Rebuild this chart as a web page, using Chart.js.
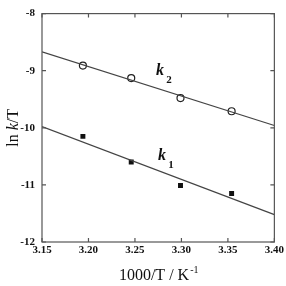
<!DOCTYPE html>
<html><head><meta charset="utf-8">
<script src="https://cdn.jsdelivr.net/npm/chart.js@4/dist/chart.umd.min.js"></script>
<style>html,body{margin:0;padding:0;background:#fff}#wrap{width:286px;height:286px}</style>
</head><body><div id="wrap"><canvas id="c" width="286" height="286"></canvas></div>
<script>
const xTicks = [3.15, 3.20, 3.25, 3.30, 3.35, 3.40];
const yTicks = [-12, -11, -10, -9, -8];
const k2X = [3.194, 3.246, 3.299, 3.354];
const k2Y = [-8.91, -9.13, -9.48, -9.71];
const k1X = [3.194, 3.246, 3.299, 3.354];
const k1Y = [-10.15, -10.60, -11.01, -11.15];
const fitX = [3.15, 3.40];
const k2Fit = [-8.67, -9.96];
const k1Fit = [-9.98, -11.52];

const pts = (xs, ys) => xs.map((x, i) => ({x, y: ys[i]}));
const SERIF = '"Liberation Serif", "DejaVu Serif", serif';

const deco = {
  id: 'deco',
  afterDraw(chart) {
    const {ctx, chartArea: a, scales: {x, y}} = chart;
    ctx.save();
    ctx.strokeStyle = '#555';
    ctx.lineWidth = 1.2;
    ctx.strokeRect(a.left, a.top, a.right - a.left, a.bottom - a.top);
    ctx.beginPath();
    xTicks.forEach(v => {
      const px = x.getPixelForValue(v);
      ctx.moveTo(px, a.bottom); ctx.lineTo(px, a.bottom - 4);
      ctx.moveTo(px, a.top); ctx.lineTo(px, a.top + 4);
    });
    yTicks.forEach(v => {
      const py = y.getPixelForValue(v);
      ctx.moveTo(a.left, py); ctx.lineTo(a.left + 4, py);
      ctx.moveTo(a.right, py); ctx.lineTo(a.right - 4, py);
    });
    ctx.stroke();
    // series labels
    ctx.fillStyle = '#111';
    const lab = (xv, yv, sub) => {
      const px = x.getPixelForValue(xv), py = y.getPixelForValue(yv);
      ctx.font = 'italic bold 16px ' + SERIF;
      ctx.textAlign = 'center'; ctx.textBaseline = 'middle';
      ctx.fillText('k', px, py);
      ctx.font = 'bold 11px ' + SERIF;
      ctx.fillText(sub, px + 9, py + 9);
    };
    lab(3.277, -9.0, '2');
    lab(3.279, -10.49, '1');
    // y title
    ctx.translate(14, (a.top + a.bottom) / 2);
    ctx.rotate(-Math.PI / 2);
    ctx.textBaseline = 'middle';
    ctx.textAlign = 'left';
    const parts = [['ln ', '16px ' + SERIF], ['k', 'italic 16px ' + SERIF], ['/T', '16px ' + SERIF]];
    let w = 0;
    parts.forEach(p => { ctx.font = p[1]; w += ctx.measureText(p[0]).width; });
    let cx = -w / 2;
    parts.forEach(p => { ctx.font = p[1]; ctx.fillText(p[0], cx, 0); cx += ctx.measureText(p[0]).width; });
    ctx.restore();
    // x title
    ctx.save();
    ctx.fillStyle = '#111';
    ctx.textBaseline = 'middle';
    ctx.textAlign = 'left';
    ctx.font = '16px ' + SERIF;
    const main = '1000/T / K', sup = '-1';
    const mw = ctx.measureText(main).width;
    ctx.font = '10px ' + SERIF;
    const sw = ctx.measureText(sup).width;
    const cxm = (a.left + a.right) / 2;
    let sx = cxm - (mw + sw) / 2;
    ctx.font = '16px ' + SERIF;
    ctx.fillText(main, sx, 276);
    ctx.font = '10px ' + SERIF;
    ctx.fillText(sup, sx + mw + 1, 270);
    ctx.restore();
  }
};

new Chart(document.getElementById('c'), {
  type: 'scatter',
  data: {
    datasets: [
      {data: pts(fitX, k2Fit), showLine: true, borderColor: '#444', borderWidth: 1.2, pointRadius: 0},
      {data: pts(fitX, k1Fit), showLine: true, borderColor: '#444', borderWidth: 1.2, pointRadius: 0},
      {data: pts(k2X, k2Y), pointStyle: 'circle', pointRadius: 3.5, backgroundColor: '#fff', borderColor: '#222', borderWidth: 1.2},
      {data: pts(k1X, k1Y), pointStyle: 'rect', pointRadius: 3.5, backgroundColor: '#111', borderColor: '#111', borderWidth: 0}
    ]
  },
  options: {
    responsive: false,
    animation: false,
    layout: {padding: {top: 6, right: 6, left: 0, bottom: 0}},
    plugins: {legend: {display: false}, tooltip: {enabled: false}},
    scales: {
      x: {
        type: 'linear', min: 3.15, max: 3.40,
        afterBuildTicks: s => { s.ticks = xTicks.map(v => ({value: v})); },
        afterFit: s => { s.height = 44; },
        grid: {display: false, drawTicks: false},
        border: {display: false},
        ticks: {padding: 2, color: '#111', font: {family: SERIF, size: 11, weight: 'bold'},
          callback: v => v.toFixed(2)}
      },
      y: {
        type: 'linear', min: -12, max: -8,
        afterBuildTicks: s => { s.ticks = yTicks.map(v => ({value: v})); },
        afterFit: s => { s.width = 42; },
        grid: {display: false, drawTicks: false},
        border: {display: false},
        ticks: {padding: 7, color: '#111', font: {family: SERIF, size: 11, weight: 'bold'},
          callback: v => String(v)}
      }
    }
  },
  plugins: [deco]
});
</script>
</body></html>
